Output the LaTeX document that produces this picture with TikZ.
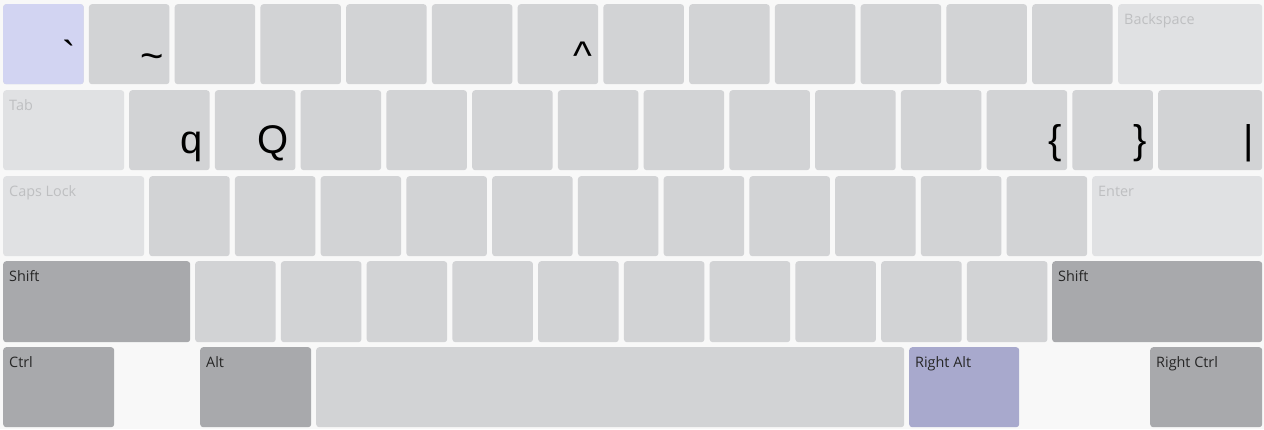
\documentclass[tikz,border=0pt]{standalone}
\usepackage{fontspec}
\newfontfamily\labelfont{Open Sans}
\newfontfamily\charfont{Liberation Sans}
\definecolor{keybg}{HTML}{F8F8F8}
\definecolor{keyplain}{HTML}{D2D3D5}
\definecolor{keylight}{HTML}{E0E1E3}
\definecolor{keydark}{HTML}{A8A9AC}
\definecolor{keyblue}{HTML}{D2D4F2}
\definecolor{keyblued}{HTML}{A8A9CD}
\definecolor{lbllight}{HTML}{BEBFC1}
\definecolor{lbldark}{HTML}{262626}

\begin{document}
\begin{tikzpicture}[
x=1bp, y=-1bp,
key/.style={rounded corners=3bp, fill=keyplain, anchor=north west, inner sep=0pt, minimum height=80bp, minimum width=80.5bp},
lightkey/.style={key, fill=keylight},
modkey/.style={key, fill=keydark},
lbl/.style={anchor=base west, inner sep=0pt, font=\labelfont\fontsize{14.4bp}{16bp}\selectfont},
faint/.style={lbl, text=lbllight},
dark/.style={lbl, text=lbldark},
chr/.style={anchor=base east, inner sep=0pt, font=\charfont\fontsize{40bp}{44bp}\selectfont, text=black}
]
\fill[keybg] (0,0) rectangle (1264,429);

% number row
\foreach \i in {0,...,12}
  \node[key] (r1k\i) at (3+85.75*\i,4) {};
\node[key, fill=keyblue] (grave) at (3,4) {};
\node[lightkey, minimum width=144bp] (bksp) at (1118,4) {};

% top letter row
\node[lightkey, minimum width=121bp] (tab) at (3,90) {};
\foreach \i in {0,...,11}
  \node[key] (r2k\i) at (129+85.75*\i,90) {};
\node[key, minimum width=104bp] (pipe) at (1158,90) {};

% home row
\node[lightkey, minimum width=141bp] (caps) at (3,176) {};
\foreach \i in {0,...,10}
  \node[key] (r3k\i) at (149+85.75*\i,176) {};
\node[lightkey, minimum width=170bp] (enter) at (1092,176) {};

% bottom letter row
\node[modkey, minimum width=187bp, minimum height=81bp] (lshift) at (3,261) {};
\foreach \i in {0,...,9}
  \node[key, minimum height=81bp] (r4k\i) at (195+85.75*\i,261) {};
\node[modkey, minimum width=210bp, minimum height=81bp] (rshift) at (1052,261) {};

% space row
\node[modkey, minimum width=111bp] (lctrl) at (3,347) {};
\node[modkey, minimum width=111bp] (lalt) at (200,347) {};
\node[key, minimum width=588bp] (space) at (316,347) {};
\node[key, fill=keyblued, minimum width=110bp] (ralt) at (909,347) {};
\node[modkey, minimum width=112bp] (rctrl) at (1150,347) {};

% key names
\node[faint] at ([shift={(6,20)}]bksp.north west) {Backspace};
\node[faint] at ([shift={(6,20)}]tab.north west) {Tab};
\node[faint] at ([shift={(6,20)}]caps.north west) {Caps Lock};
\node[faint] at ([shift={(6,20)}]enter.north west) {Enter};
\node[dark] at ([shift={(6,20)}]lshift.north west) {Shift};
\node[dark] at ([shift={(6,20)}]rshift.north west) {Shift};
\node[dark] at ([shift={(6,20)}]lctrl.north west) {Ctrl};
\node[dark] at ([shift={(6,20)}]lalt.north west) {Alt};
\node[dark] at ([shift={(6,20)}]ralt.north west) {Right Alt};
\node[dark] at ([shift={(6,20)}]rctrl.north west) {Right Ctrl};

% characters
\node[chr] at ([shift={(-8,-15)}]grave.south east) {\char"60};
\node[chr] at ([shift={(-6,-15)}]r1k1.south east) {\char"7E};
\node[chr] at ([shift={(-6,-15)}]r1k6.south east) {\char"5E};
\node[chr] at ([shift={(-7,-17)}]r2k0.south east) {q};
\node[chr] at ([shift={(-7,-17)}]r2k1.south east) {Q};
\node[chr] at ([shift={(-5,-17)}]r2k10.south east) {\char"7B};
\node[chr] at ([shift={(-6,-17)}]r2k11.south east) {\char"7D};
\node[chr] at ([shift={(-8,-17)}]pipe.south east) {\char"7C};
\end{tikzpicture}
\end{document}
